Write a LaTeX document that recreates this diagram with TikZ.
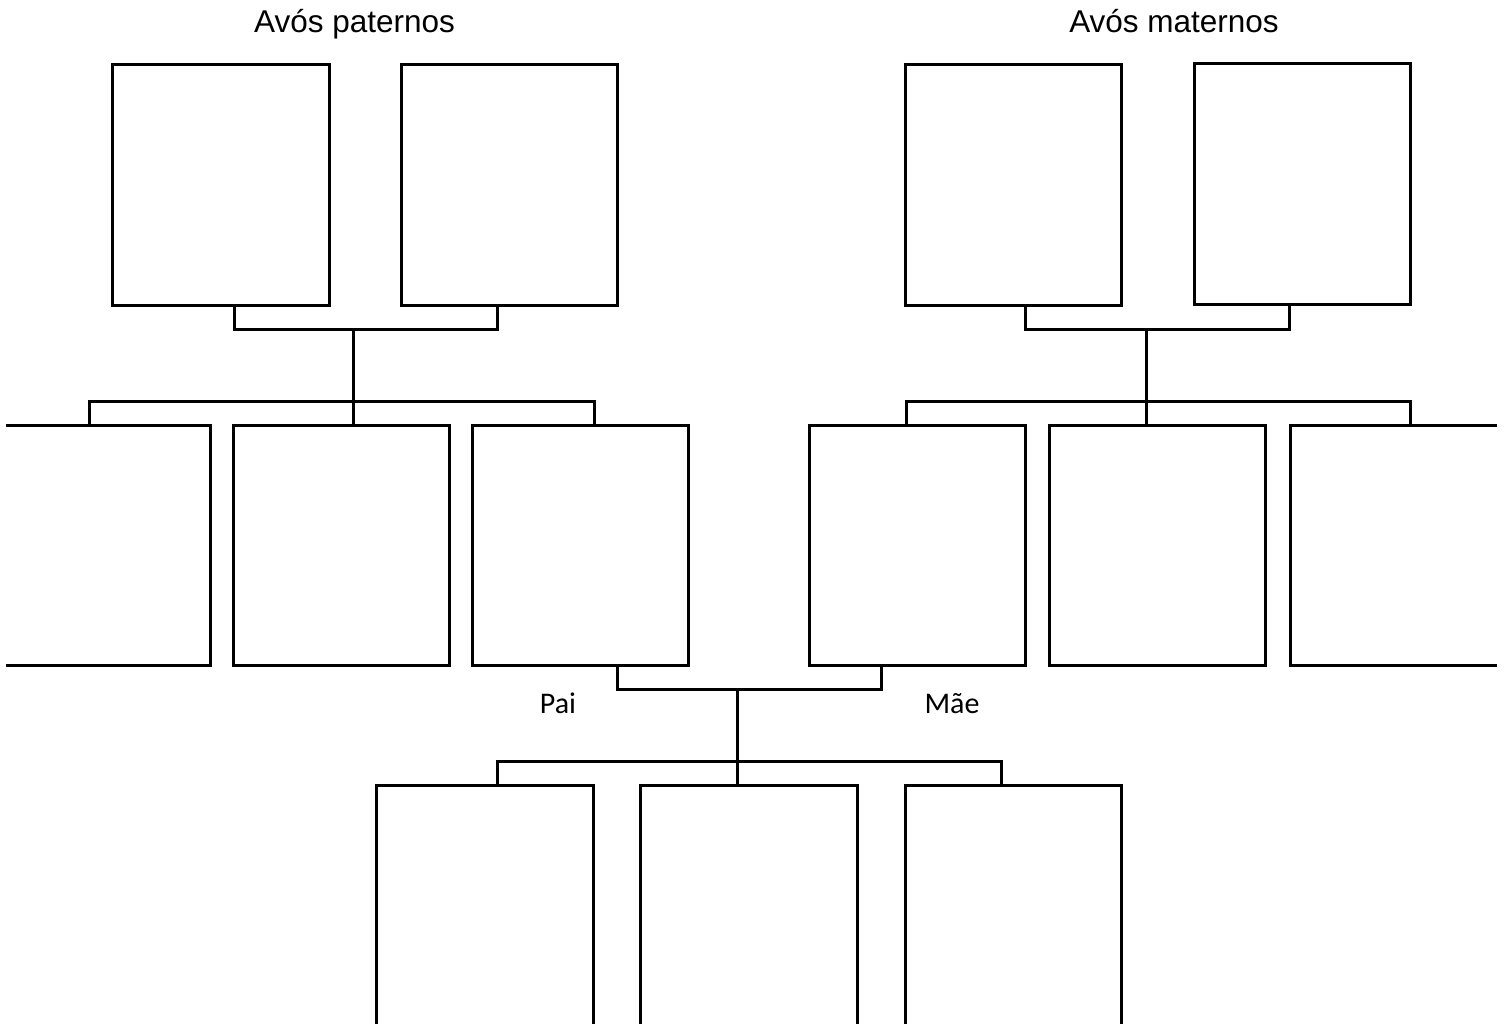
\documentclass[tikz,border=0pt]{standalone}
\usepackage{fontspec}
\newfontfamily\headfont{Liberation Sans}
\newfontfamily\tagfont{Carlito}
\usetikzlibrary{calc}
\begin{document}
\begin{tikzpicture}[x=1pt,y=-1pt,line width=3pt,
  person/.style={draw,line width=3pt,minimum width=216pt,minimum height=240pt,
    inner sep=0pt,outer sep=0pt,anchor=north west},
  ghost/.style={inner sep=0pt,outer sep=0pt,anchor=north west},
  head/.style={font=\headfont\fontsize{31.5}{36}\selectfont,anchor=base},
  tag/.style={font=\tagfont\fontsize{30}{34}\selectfont,anchor=base}]
\useasboundingbox (0,0) rectangle (1506,1024);
\clip (0,0) rectangle (1506,1024);

% headings
\node[head] (hp) at (354.5,33) {Avós paternos};
\node[head] (hm) at (1174,33) {Avós maternos};

% grandparents
\node[person,minimum width=217pt] (gp1) at (112,65) {};
\node[person] (gp2) at (401,65) {};
\node[person] (gm1) at (905,65) {};
\node[person] (gm2) at (1194,64) {};

% parents' generation
\node[ghost,minimum width=204pt,minimum height=240pt] (u1) at (6,425) {};
\draw (u1.north west) -- (u1.north east) -- (u1.south east) -- (u1.south west);
\node[person,minimum width=216pt] (u2) at (233,425) {};
\node[person] (pai) at (472,425) {};
\node[person] (mae) at (809,425) {};
\node[person] (t1) at (1049,425) {};
\node[ghost,minimum width=207pt,minimum height=240pt] (t2) at (1290,425) {};
\draw (t2.north east) -- (t2.north west) -- (t2.south west) -- (t2.south east);

% children
\node[person,minimum width=217pt,minimum height=250pt] (c1) at (376,785) {};
\node[person,minimum width=217pt,minimum height=250pt] (c2) at (640,785) {};
\node[person,minimum width=216pt,minimum height=250pt] (c3) at (905,785) {};

% labels
\node[tag] (lp) at (558,713) {Pai};
\node[tag] (lm) at (952,713) {Mãe};

% paternal links
\coordinate (pk) at (353,329);
\coordinate (pb) at (353,401);
\draw ([xshift=122pt]gp1.south west) -- ++(0,24) -| ([xshift=96pt]gp2.south west);
\draw (pk) -- (pb);
\draw ([xshift=83pt]u1.north west) -- ++(0,-24) -| ([xshift=122pt]pai.north west);
\draw (pb) -- (pb |- u2.north);

% maternal links
\coordinate (mk) at (1146,329);
\coordinate (mb) at (1146,401);
\draw ([xshift=120pt]gm1.south west) -- ++(0,24) -| ([xshift=95pt]gm2.south west);
\draw (mk) -- (mb);
\draw ([xshift=97pt]mae.north west) -- ++(0,-24) -| ([xshift=120pt]t2.north west);
\draw (mb) -- (mb |- t1.north);

% links to the children
\coordinate (fk) at (737,689);
\coordinate (fb) at (737,761);
\draw ([xshift=145pt]pai.south west) -- ++(0,24) -| ([xshift=72pt]mae.south west);
\draw (fk) -- (fb);
\draw ([xshift=121pt]c1.north west) -- ++(0,-24) -| ([xshift=96pt]c3.north west);
\draw (fb) -- (fb |- c2.north);
\end{tikzpicture}
\end{document}
